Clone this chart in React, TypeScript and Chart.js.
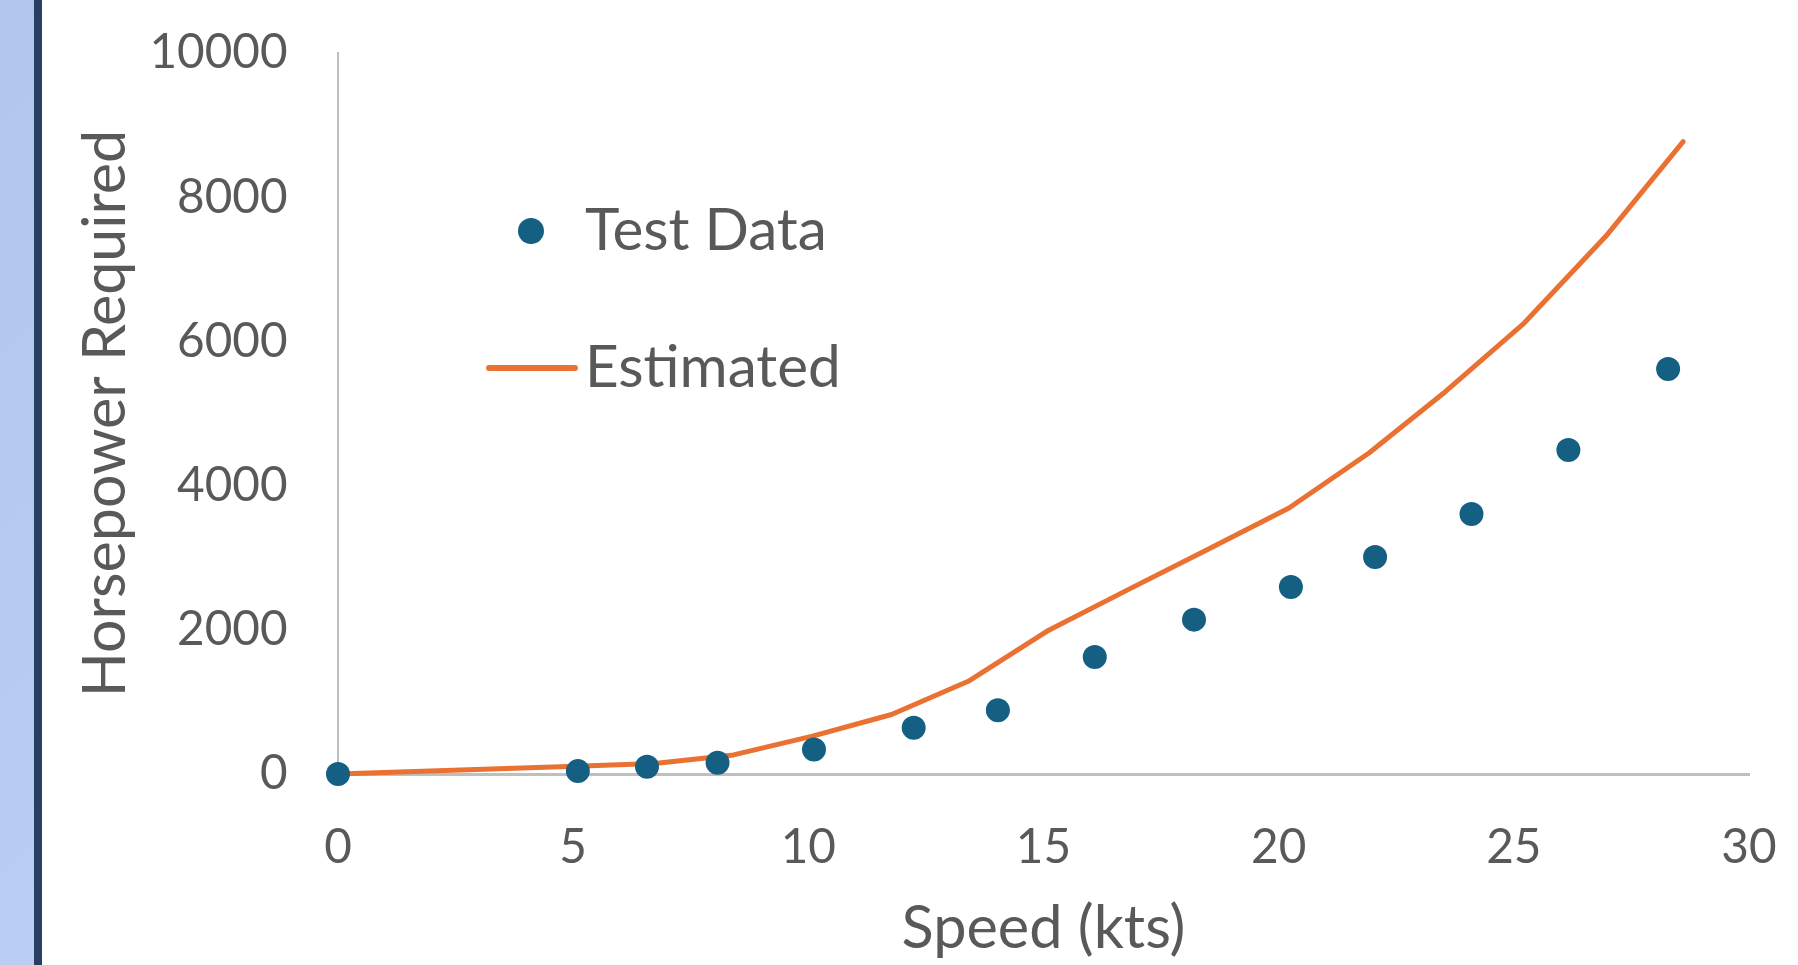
import React, { useEffect, useRef } from "react";
import { Chart, registerables } from "chart.js";

Chart.register(...registerables);

// ---- data ----
const testSpeed = [0, 5.1, 6.57, 8.07, 10.12, 12.24, 14.03, 16.09, 18.2, 20.26, 22.05, 24.1, 26.16, 28.28];
const testHp = [0, 40, 100, 155, 340, 642, 884, 1624, 2141, 2595, 3010, 3606, 4493, 5616];
const estSpeed = [0, 5.05, 6.73, 8.41, 10.09, 11.77, 13.4, 15.07, 16.8, 18.5, 20.22, 21.92, 23.55, 25.22, 26.95, 28.6];
const estHp = [0, 108, 145, 265, 525, 825, 1286, 1979, 2557, 3116, 3689, 4452, 5306, 6254, 7454, 8771];
const xTicks = [0, 5, 10, 15, 20, 25, 30];
const yTicks = [0, 2000, 4000, 6000, 8000, 10000];
const seriesLabels = ["Test Data", "Estimated"];
const xTitle = "Speed (kts)";
const yTitle = "Horsepower Required";

const FAMILY = "Lato";
const TEXT = "#595959";
const BLUE = "#156082";
const ORANGE = "#E97132";
const AXIS = "#BFBFBF";

const W = 1798;
const H = 965;

function inkWidth(text: string) {
  const c = document.createElement("canvas").getContext("2d")!;
  c.font = `100px ${FAMILY}`;
  const m = c.measureText(text);
  return m.actualBoundingBoxLeft + m.actualBoundingBoxRight;
}
function fit(text: string, target: number) {
  return (100 * target) / inkWidth(text);
}
function midToBase(size: number) {
  const c = document.createElement("canvas").getContext("2d")!;
  c.font = `${size}px ${FAMILY}`;
  c.textBaseline = "middle";
  return c.measureText("H").actualBoundingBoxDescent;
}
function rightBearing(text: string, size: number) {
  const c = document.createElement("canvas").getContext("2d")!;
  c.font = `${size}px ${FAMILY}`;
  c.textAlign = "left";
  const m = c.measureText(text);
  return m.width - m.actualBoundingBoxRight;
}

export default function App() {
  const ref = useRef<HTMLCanvasElement | null>(null);

  useEffect(() => {
    if (!ref.current) return;
    const tickSize = fit("10000", 133);
    const yTitleSize = fit(yTitle, 558);
    const xTitleSize = fit(xTitle, 280);
    const legendSize = fit(seriesLabels[0], 238);

    const yTitlePad = 125 - midToBase(yTitleSize) - 0.6 * yTitleSize;
    const xTitlePad = H - (948 - midToBase(xTitleSize)) - 0.6 * xTitleSize;
    const xTickGap = 862.5 - midToBase(tickSize) - 774 - 0.6 * tickSize;
    const yTickGap = 338 - 287 - rightBearing("0", tickSize);

    const legendPlugin = {
      id: "customLegend",
      afterDraw(chart: any) {
        const ctx = chart.ctx;
        const ds = chart.data.datasets;
        ctx.save();
        ctx.fillStyle = ds[0].backgroundColor;
        ctx.beginPath();
        ctx.arc(531, 231, 13, 0, Math.PI * 2);
        ctx.fill();
        ctx.strokeStyle = ds[1].borderColor;
        ctx.lineWidth = 6;
        ctx.lineCap = "round";
        ctx.beginPath();
        ctx.moveTo(489, 368);
        ctx.lineTo(575, 368);
        ctx.stroke();
        ctx.fillStyle = TEXT;
        ctx.font = `${legendSize}px ${FAMILY}`;
        ctx.textBaseline = "alphabetic";
        ctx.textAlign = "left";
        ctx.fillText(ds[0].label, 585, 250);
        ctx.fillText(ds[1].label, 585, 387);
        ctx.restore();
      },
    };

    const chart = new Chart(ref.current, {
      type: "scatter",
      data: {
        datasets: [
          {
            label: seriesLabels[0],
            data: testSpeed.map((x, i) => ({ x, y: testHp[i] })),
            backgroundColor: BLUE,
            borderColor: BLUE,
            pointRadius: 12,
            pointBorderWidth: 0,
            showLine: false,
            clip: false,
          },
          {
            label: seriesLabels[1],
            data: estSpeed.map((x, i) => ({ x, y: estHp[i] })),
            backgroundColor: ORANGE,
            borderColor: ORANGE,
            borderWidth: 5,
            pointRadius: 0,
            showLine: true,
            borderCapStyle: "round",
            borderJoinStyle: "round",
            tension: 0,
            clip: false,
          } as any,
        ],
      },
      options: {
        responsive: false,
        animation: false,
        events: [],
        layout: { autoPadding: false, padding: { left: 0, top: 53, right: 49, bottom: 0 } },
        plugins: {
          legend: { display: false },
          tooltip: { enabled: false },
        },
        scales: {
          x: {
            type: "linear",
            min: 0,
            max: 30,
            afterBuildTicks: (scale: any) => {
              scale.ticks = xTicks.map((v) => ({ value: v }));
            },
            afterFit: (scale: any) => {
              scale.height = H - 774;
            },
            grid: { display: false, drawTicks: true, tickLength: xTickGap },
            border: { display: true, color: AXIS, width: 3 },
            ticks: {
              color: TEXT,
              padding: 0,
              font: { family: FAMILY, size: tickSize },
              maxRotation: 0,
            },
            title: {
              display: true,
              text: xTitle,
              color: TEXT,
              font: { family: FAMILY, size: xTitleSize },
              padding: { top: 0, bottom: xTitlePad },
            },
          },
          y: {
            type: "linear",
            min: 0,
            max: 10000,
            afterBuildTicks: (scale: any) => {
              scale.ticks = yTicks.map((v) => ({ value: v }));
            },
            afterFit: (scale: any) => {
              scale.width = 338;
            },
            grid: { display: false, drawTicks: true, tickLength: yTickGap },
            border: { display: true, color: AXIS, width: 2 },
            ticks: {
              color: TEXT,
              padding: 0,
              font: { family: FAMILY, size: tickSize },
              callback: (v: any) => String(v),
            },
            title: {
              display: true,
              text: yTitle,
              color: TEXT,
              font: { family: FAMILY, size: yTitleSize },
              padding: { top: yTitlePad, bottom: 0 },
            },
          },
        },
      },
      plugins: [legendPlugin],
    });
    return () => chart.destroy();
  }, []);

  return (
    <div style={{ position: "fixed", left: 0, top: 0, width: W, height: H, background: "#ffffff", overflow: "hidden" }}>
      <canvas ref={ref} width={W} height={H} style={{ display: "block", width: W, height: H }} />
      <div
        style={{
          position: "absolute",
          left: 0,
          top: 0,
          width: 34,
          height: H,
          background: "linear-gradient(135deg, #B2C6EE 0%, #BACDF2 100%)",
        }}
      />
      <div style={{ position: "absolute", left: 34, top: 0, width: 8, height: H, background: "#263F63" }} />
    </div>
  );
}
